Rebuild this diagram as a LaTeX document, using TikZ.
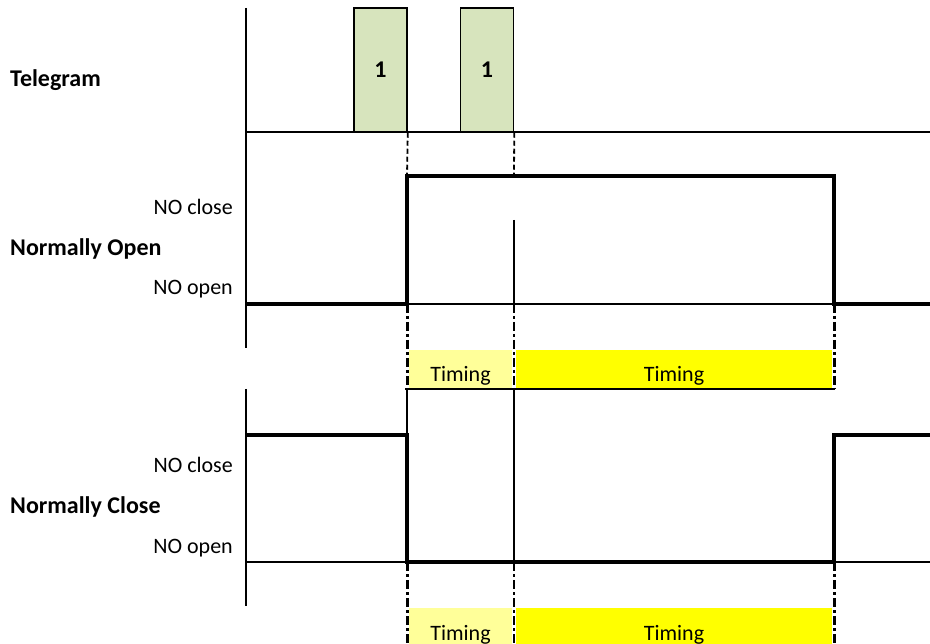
\documentclass[tikz,border=0pt]{standalone}
\usepackage{fontspec}
\setmainfont{Carlito}
\usepackage{xcolor}
\usetikzlibrary{positioning}
\newcommand{\diagfont}{\fontsize{22}{26}\selectfont}
\newcommand{\boldfont}{\fontsize{24}{28}\selectfont\bfseries}
\definecolor{pulseGreen}{HTML}{D7E4BD}
\definecolor{lightYellow}{HTML}{FFFF99}
\definecolor{fullYellow}{HTML}{FFFF00}
\tikzstyle{axis} = [line width=1.5pt]
\tikzstyle{signal} = [line width=4.5pt, line join=miter]
\tikzstyle{guide} = [line width=1.8pt, dash pattern=on 5pt off 3pt]
\tikzstyle{timeGuide} = [line width=3pt, dash pattern=on 9pt off 3pt on 3pt off 3pt]
\tikzstyle{pulse} = [
                rectangle,
                draw=black,
                line width=1.5pt,
                fill=pulseGreen,
                minimum width=53pt,
                minimum height=124pt,
                font=\boldfont,
                inner sep=0pt
            ]
\tikzstyle{band} = [rectangle, inner sep=0pt, text height=32pt, text depth=7pt, font=\diagfont]
\tikzstyle{level} = [anchor=base east, inner sep=0pt, font=\diagfont]
\tikzstyle{title} = [anchor=base west, inner sep=0pt, font=\boldfont]

\begin{document}
\begin{tikzpicture}[x=1pt, y=-1pt]
                            \useasboundingbox (0,0) rectangle (930,644);
                            % time marks and levels
                            \coordinate (tS) at (246,0);
                            \coordinate (tA) at (407,0);
                            \coordinate (tB) at (514,0);
                            \coordinate (tC) at (834,0);
                            \coordinate (tE) at (930,0);
                            \coordinate (telBase) at (0,132);
                            \coordinate (noHi) at (0,176);
                            \coordinate (noLo) at (0,304);
                            \coordinate (band1) at (0,389);
                            \coordinate (ncHi) at (0,435);
                            \coordinate (ncLo) at (0,562);
                            \coordinate (band2) at (0,644);
                            % labels
                            \node (tel) [title] at (10,87) {Telegram};
                            \node (noClose) [level] at (233,215) {NO close};
                            \node (noTitle) [title] at (10,256) {Normally Open};
                            \node (noOpen) [level] at (233,295) {NO open};
                            \node (ncClose) [level] at (233,473) {NO close};
                            \node (ncTitle) [title] at (10,513) {Normally Close};
                            \node (ncOpen) [level] at (233,553) {NO open};
                            % timing bands
                            \node (tm1) [band, fill=lightYellow, minimum width=103pt] at (460.5,369.5) {Timing};
                            \node (tm2) [band, fill=fullYellow, minimum width=316pt] at (674,369.5) {Timing};
                            \node (tm3) [band, fill=lightYellow, minimum width=103pt] at (460.5,627.5) {Timing};
                            \node (tm4) [band, fill=fullYellow, minimum width=316pt] at (674,627.5) {Timing};
                            % axes
                            \draw [axis] (tS |- 0,8) -- (tS |- 0,348);
                            \draw [axis] (tS |- band1) -- (tS |- 0,606);
                            \draw [axis] (tS |- telBase) -- (tE |- telBase);
                            \draw [axis] (tS |- noLo) -- (tE |- noLo);
                            \draw [axis] (tS |- ncLo) -- (tE |- ncLo);
                            \draw [axis] (405,389) -- (835,389);
                            % telegrams
                            \node (p1) [pulse] at (380.5,70) {1};
                            \node (p2) [pulse] at (487,70) {1};
                            \draw [guide] (p1.south east) -- (tA |- noHi);
                            \draw [guide] (p2.south east) -- (tB |- noHi);
                            % guides through the bands
                            \draw [axis] (tB |- 0,220) -- (tB |- noLo);
                            \draw [axis] (tB |- band1) -- (tB |- ncLo);
                            \draw [axis] (tA |- band1) -- (tA |- ncHi);
                            \foreach \t in {tA,tC} {
                                \draw [timeGuide] (\t |- noLo) -- (\t |- band1);
                                \draw [timeGuide] (\t |- ncLo) -- (\t |- band2);
                            }
                            \draw [timeGuide, line width=2pt] (tB |- noLo) -- (tB |- band1);
                            \draw [timeGuide, line width=2pt] (tB |- ncLo) -- (tB |- band2);
                            % outputs
                            \draw [signal] (tS |- noLo) -- (tA |- noLo) -- (tA |- noHi) -- (tC |- noHi) -- (tC |- noLo) -- (tE |- noLo);
                            \draw [signal] (tS |- ncHi) -- (tA |- ncHi) -- (tA |- ncLo) -- (tC |- ncLo) -- (tC |- ncHi) -- (tE |- ncHi);
                        \end{tikzpicture}
\end{document}
